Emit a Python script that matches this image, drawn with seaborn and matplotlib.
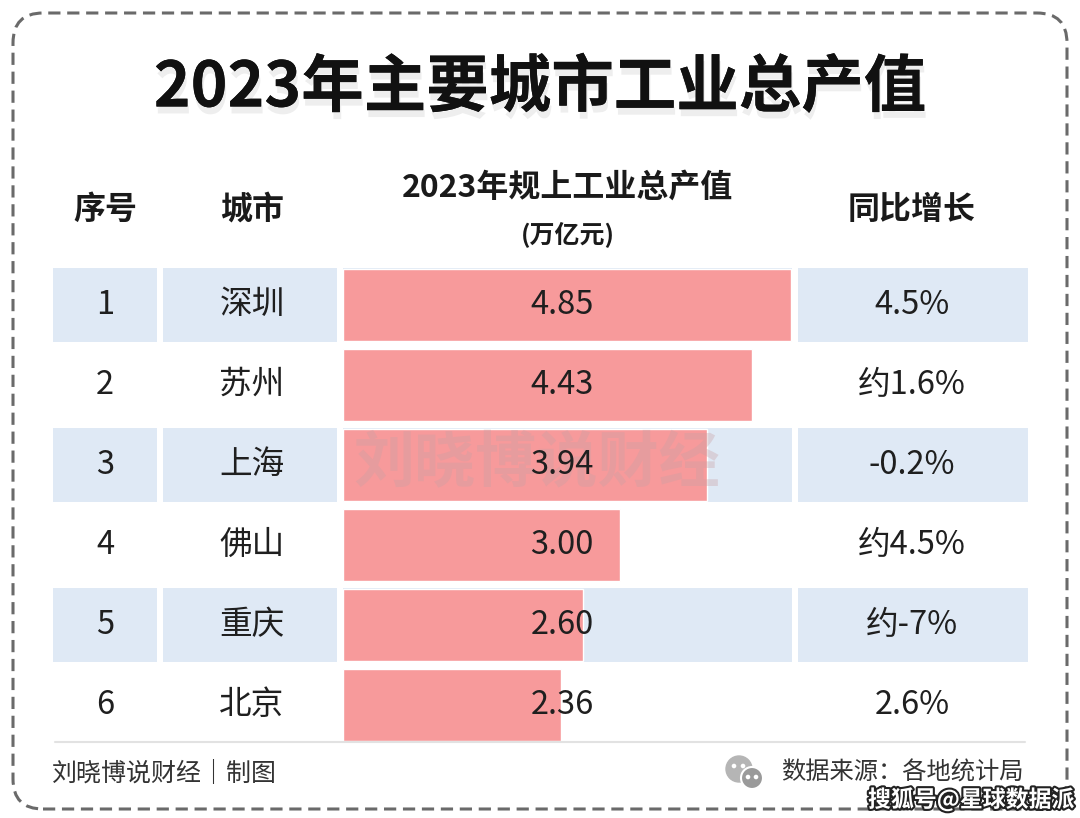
import matplotlib
matplotlib.use("Agg")
import matplotlib.pyplot as plt
import matplotlib.patheffects as pe
from matplotlib.patches import FancyBboxPatch, Rectangle, Circle
from matplotlib.transforms import blended_transform_factory
import seaborn as sns
import pandas as pd

# data
ranks = ["1", "2", "3", "4", "5", "6"]
cities = ["深圳", "苏州", "上海", "佛山", "重庆", "北京"]
output_values = [4.85, 4.43, 3.94, 3.00, 2.60, 2.36]
growth_labels = ["4.5%", "约1.6%", "-0.2%", "约4.5%", "约-7%", "2.6%"]

title = "2023年主要城市工业总产值"
col_headers = ["序号", "城市", "2023年规上工业总产值", "同比增长"]
unit_label = "(万亿元)"
credit = "刘晓博说财经｜制图"
source = "数据来源：各地统计局"
watermark = "刘晓博说财经"
site_mark = "搜狐号@星球数据派"

df = pd.DataFrame({"rank": ranks, "city": cities, "value": output_values, "growth": growth_labels})

sns.set_style("white")
plt.rcParams["font.family"] = ["Noto Sans CJK SC", "DejaVu Sans"]

W, H = 1080, 818
fig = plt.figure(figsize=(W / 100, H / 100), dpi=100)
fig.patch.set_facecolor("white")


def fx(px):
    return px / W


def fy(py):
    return 1 - py / H


# dashed rounded frame
frame = FancyBboxPatch((0.13, 0.09), 10.54, 7.96,
                       boxstyle="round,pad=0,rounding_size=0.3",
                       transform=fig.dpi_scale_trans, fill=False,
                       edgecolor="#6a6a6a", linewidth=2.2, linestyle=(0, (4, 2.2)))
fig.patches.append(frame)

# title with soft shadow
fig.text(fx(540), fy(88), title, ha="center", va="center", fontsize=45,
         fontweight="bold", color="#111111",
         path_effects=[pe.withSimplePatchShadow(offset=(1, -5), shadow_rgbFace="#aaaaaa", alpha=0.2),
                       pe.Normal()])

# column headers
hdr_kw = dict(ha="center", va="center", fontsize=23, fontweight="bold", color="#1a1a1a")
fig.text(fx(105), fy(210), col_headers[0], **hdr_kw)
fig.text(fx(252), fy(210), col_headers[1], **hdr_kw)
fig.text(fx(568), fy(188), col_headers[2], **hdr_kw)
fig.text(fx(568), fy(234), unit_label, ha="center", va="center", fontsize=18,
         fontweight="bold", color="#1a1a1a")
fig.text(fx(912), fy(210), col_headers[3], **hdr_kw)

# table area
left_px, right_px, top_px, bot_px = 53, 1028, 265, 745
ax = fig.add_axes([fx(left_px), fy(bot_px), (right_px - left_px) / W, (bot_px - top_px) / H])
px_per_unit = 92.4
zero_px = 343
ax.set_xlim(-(zero_px - left_px) / px_per_unit, (right_px - zero_px) / px_per_unit)

blend = blended_transform_factory(ax.transAxes, ax.transData)
span = right_px - left_px
col_edges = [(53, 157), (163, 337), (343, 792), (798, 1028)]
col_centers = [105, 252, 562, 912]

# light blue bands on odd rows
for i in range(0, len(cities), 2):
    for x0, x1 in col_edges:
        ax.add_patch(Rectangle(((x0 - left_px) / span, i - 0.46), (x1 - x0) / span, 0.92,
                               transform=blend, facecolor="#dfe9f5", edgecolor="none", zorder=0))

sns.barplot(data=df, x="value", y="city", order=cities, orient="h", color="#f79a9b",
            saturation=1, width=0.9, ax=ax, zorder=2)
ax.set_ylim(len(cities) - 0.5, -0.5)

# watermark across row 3
ax.text((537 - left_px) / span, 2, watermark, transform=blend, ha="center", va="center",
        fontsize=44, fontweight="bold", color="#c9a0a4", alpha=0.35, zorder=3)

cell_kw = dict(transform=blend, ha="center", va="center", fontsize=23.5, color="#1f1f1f", zorder=4)
for i, row in df.iterrows():
    ax.text((col_centers[0] - left_px) / span, i, row["rank"], **cell_kw)
    ax.text((col_centers[1] - left_px) / span, i, row["city"], **cell_kw)
    ax.text((col_centers[2] - left_px) / span, i, f"{row['value']:.2f}", **cell_kw)
    ax.text((col_centers[3] - left_px) / span, i, row["growth"], **cell_kw)

ax.set_axis_off()

# separator line and footer
fig.add_artist(plt.Line2D([fx(55), fx(1025)], [fy(742), fy(742)], color="#e2e2e2", linewidth=1.5))
fig.text(fx(52), fy(774), credit, ha="left", va="center", fontsize=18, color="#333333")
fig.text(fx(1024), fy(773), source, ha="right", va="center", fontsize=17.5, color="#333333")

# small wechat-like icon
icon_ax = fig.add_axes([fx(722), fy(793), fx(46), 40 / H])
icon_ax.set_xlim(0, 46)
icon_ax.set_ylim(0, 40)
icon_ax.set_aspect("equal")
icon_ax.add_patch(Circle((17, 24), 13, color="#b5b5b5"))
icon_ax.add_patch(Circle((30, 15), 11, color="#9a9a9a", ec="white", lw=1.5))
for cx, cy in [(12, 27), (21, 27), (26, 16), (34, 16)]:
    icon_ax.add_patch(Circle((cx, cy), 1.6, color="white"))
icon_ax.set_axis_off()

fig.text(fx(1074), fy(800), site_mark, ha="right", va="center", fontsize=16.5, fontweight="bold",
         color="white", path_effects=[pe.withStroke(linewidth=3, foreground="#222222")])

fig.savefig("out.png", dpi=100, facecolor="white")
